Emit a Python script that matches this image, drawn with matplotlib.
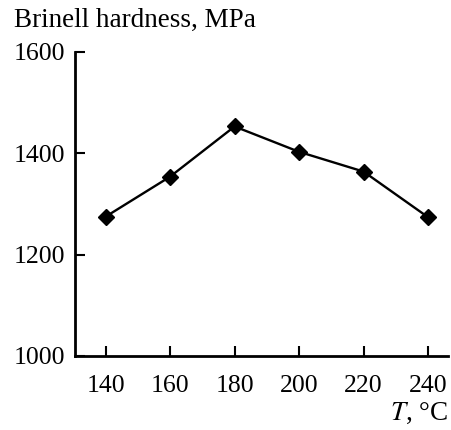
import matplotlib
matplotlib.use("Agg")
import matplotlib.pyplot as plt

# data
temperature = [140, 160, 180, 200, 220, 240]
hardness = [1275, 1354, 1453, 1403, 1364, 1274]
x_ticks = [140, 160, 180, 200, 220, 240]
y_ticks = [1000, 1200, 1400, 1600]

plt.rcParams['font.family'] = ['Liberation Serif', 'DejaVu Serif']
plt.rcParams['mathtext.fontset'] = 'stix'

fig = plt.figure(figsize=(4.51, 4.30), dpi=100)
ax = fig.add_axes([75 / 451, (430 - 356) / 430, (448 - 75) / 451, (356 - 52) / 430])

ax.plot(temperature, hardness, color='black', linewidth=1.7,
        marker='D', markersize=8, markerfacecolor='black', markeredgecolor='black')

ax.set_xlim(130.5, 246.2)
ax.set_ylim(1000, 1600)
ax.set_xticks(x_ticks)
ax.set_yticks(y_ticks)

for side in ['top', 'right']:
    ax.spines[side].set_visible(False)
for side in ['left', 'bottom']:
    ax.spines[side].set_linewidth(2)

ax.tick_params(axis='both', direction='in', length=7, width=1.5, labelsize=18.5)
ax.tick_params(axis='x', pad=14)
ax.tick_params(axis='y', pad=7)

fig.text(14 / 451, 1 - 27 / 430, 'Brinell hardness, MPa', fontsize=19.5,
         ha='left', va='baseline')
fig.text(448 / 451, 1 - 420 / 430, '$T$, °C', fontsize=19.5,
         ha='right', va='baseline')

fig.savefig('out.png', dpi=100)
